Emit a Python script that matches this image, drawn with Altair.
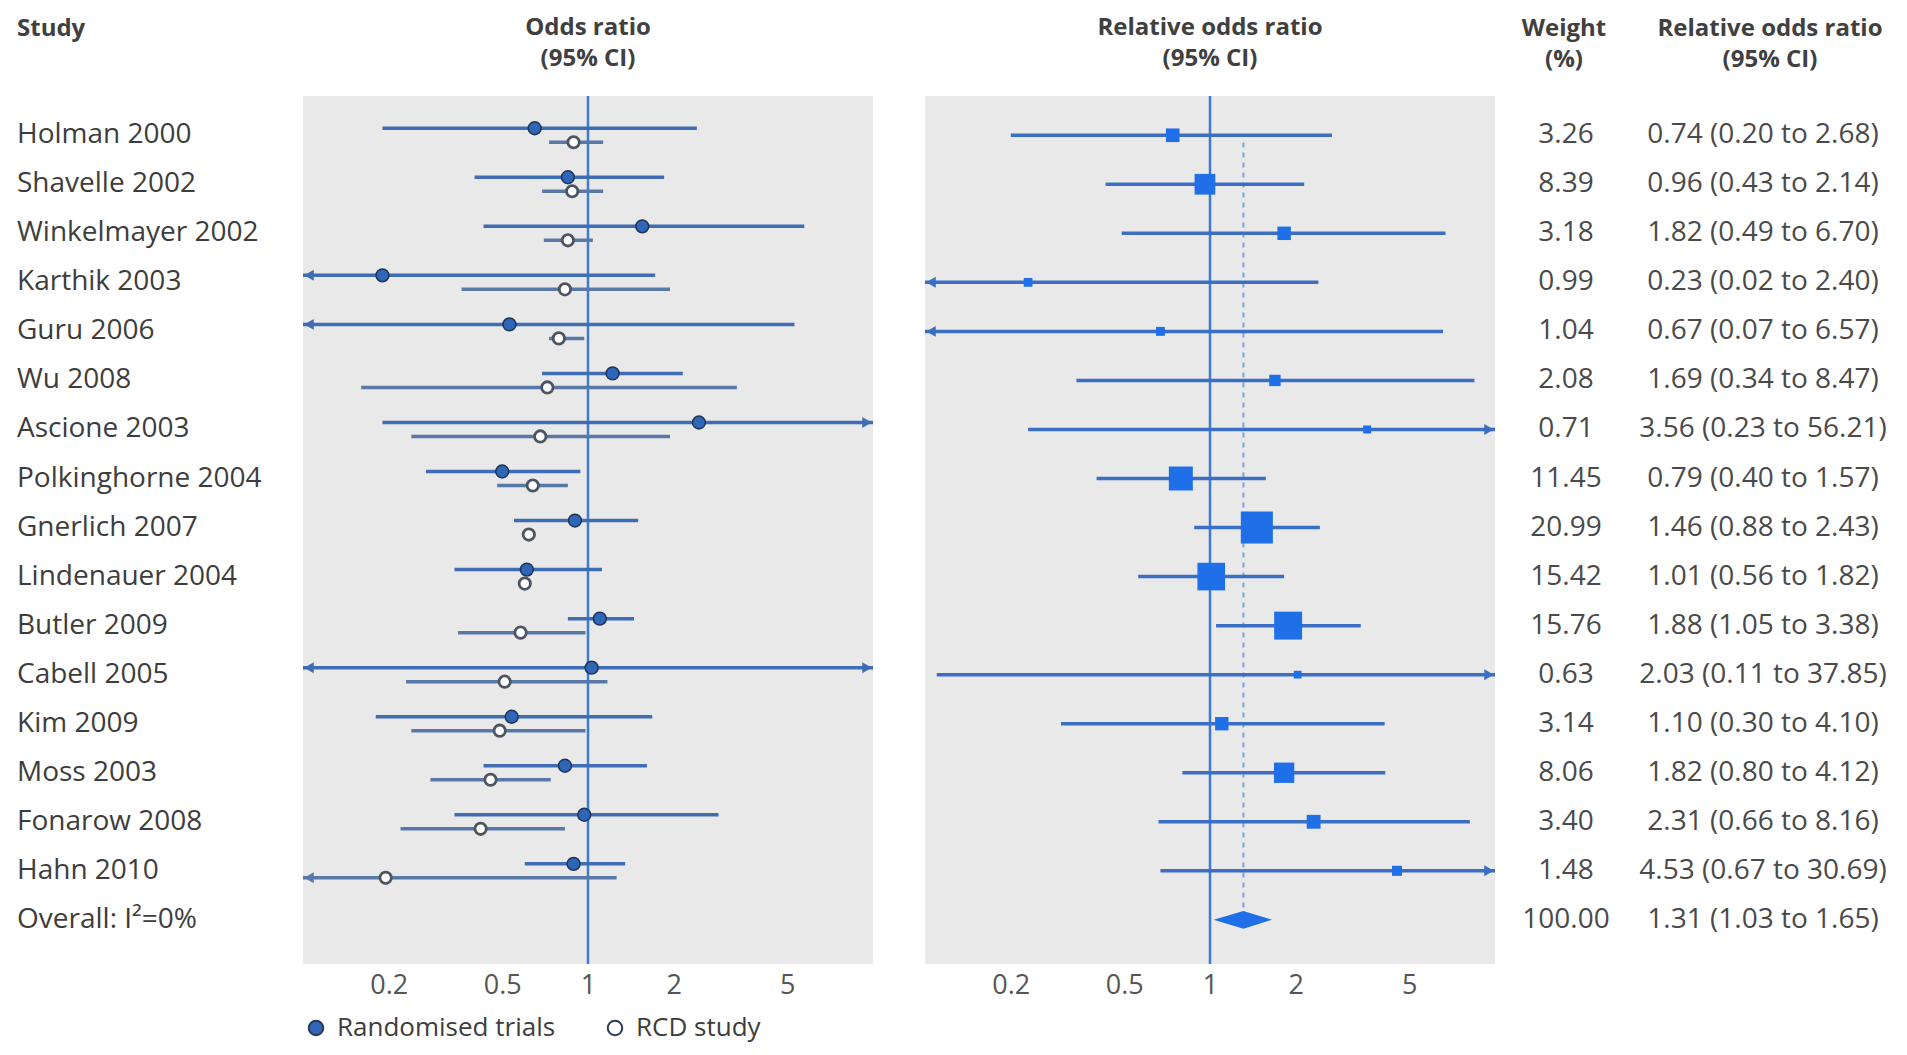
import altair as alt
import pandas as pd

# ---------------- data ----------------
studies = ["Holman 2000", "Shavelle 2002", "Winkelmayer 2002", "Karthik 2003", "Guru 2006",
           "Wu 2008", "Ascione 2003", "Polkinghorne 2004", "Gnerlich 2007", "Lindenauer 2004",
           "Butler 2009", "Cabell 2005", "Kim 2009", "Moss 2003", "Fonarow 2008", "Hahn 2010"]
overall_label = "Overall: I\u00b2=0%"

# odds ratios (randomised trials)
rt_or = [0.65, 0.85, 1.55, 0.19, 0.53, 1.22, 2.45, 0.50, 0.90, 0.61, 1.10, 1.03, 0.54, 0.83, 0.97, 0.89]
rt_lo = [0.19, 0.40, 0.43, 0.03, 0.05, 0.69, 0.19, 0.27, 0.55, 0.34, 0.85, 0.05, 0.18, 0.43, 0.34, 0.60]
rt_hi = [2.41, 1.85, 5.74, 1.72, 5.30, 2.15, 30.0, 0.94, 1.50, 1.12, 1.45, 20.0, 1.68, 1.61, 2.87, 1.35]
# odds ratios (RCD studies)
rcd_or = [0.89, 0.88, 0.85, 0.83, 0.79, 0.72, 0.68, 0.64, 0.62, 0.60, 0.58, 0.51, 0.49, 0.455, 0.42, 0.195]
rcd_lo = [0.73, 0.69, 0.70, 0.36, 0.73, 0.16, 0.24, 0.48, 0.60, 0.58, 0.35, 0.23, 0.24, 0.28, 0.22, 0.04]
rcd_hi = [1.13, 1.13, 1.04, 1.94, 0.97, 3.33, 1.94, 0.85, 0.645, 0.625, 0.98, 1.17, 0.98, 0.74, 0.83, 1.26]

# relative odds ratios (table)
rel_or = [0.74, 0.96, 1.82, 0.23, 0.67, 1.69, 3.56, 0.79, 1.46, 1.01, 1.88, 2.03, 1.10, 1.82, 2.31, 4.53]
rel_lo = [0.20, 0.43, 0.49, 0.02, 0.07, 0.34, 0.23, 0.40, 0.88, 0.56, 1.05, 0.11, 0.30, 0.80, 0.66, 0.67]
rel_hi = [2.68, 2.14, 6.70, 2.40, 6.57, 8.47, 56.21, 1.57, 2.43, 1.82, 3.38, 37.85, 4.10, 4.12, 8.16, 30.69]
weights = [3.26, 8.39, 3.18, 0.99, 1.04, 2.08, 0.71, 11.45, 20.99, 15.42, 15.76, 0.63, 3.14, 8.06, 3.40, 1.48]
overall_or, overall_lo, overall_hi, overall_w = 1.31, 1.03, 1.65, 100.00

series = ["Randomised trials", "RCD study"]
x_ticks = [0.2, 0.5, 1, 2, 5]
x_domain = [0.1, 10]

# ---------------- tables ----------------
n = len(studies)
rows = list(range(n))
overall_row = n

rt_df = pd.DataFrame({"row": rows, "type": series[0], "or": rt_or, "lo": rt_lo, "hi": rt_hi})
rcd_df = pd.DataFrame({"row": rows, "type": series[1], "or": rcd_or, "lo": rcd_lo, "hi": rcd_hi})
rel_df = pd.DataFrame({"row": rows, "or": rel_or, "lo": rel_lo, "hi": rel_hi, "w": weights})

label_df = pd.DataFrame({"row": rows + [overall_row], "label": studies + [overall_label]})
weight_df = pd.DataFrame({"row": rows + [overall_row],
                          "txt": [f"{w:.2f}" for w in weights + [overall_w]]})
ci_df = pd.DataFrame({"row": rows + [overall_row],
                      "txt": [f"{o:.2f} ({l:.2f} to {h:.2f})" for o, l, h in
                              zip(rel_or + [overall_or], rel_lo + [overall_lo], rel_hi + [overall_hi])]})

ref_df = pd.DataFrame({"x": [1.0]})
dash_df = pd.DataFrame({"x": [overall_or], "y": [0.15], "y2": [overall_row]})
dh = 0.18
diamond_df = pd.DataFrame({"x": [overall_lo, overall_or, overall_hi],
                           "y": [overall_row, overall_row - dh, overall_row],
                           "y2": [overall_row, overall_row + dh, overall_row]})

# ---------------- style ----------------
FONT = "Open Sans"
H = 868
PW = 570
TXT = "#3d3d3d"
PANEL_BG = "#e9e9e9"
REF_BLUE = "#3b7bd4"
LINE_BLUE = "#3f6db3"
LINE_RCD = "#5878a8"
SQ_BLUE = "#1f6fe8"

yscale = alt.Scale(domain=[-0.8, 16.9], reverse=True, nice=False, zero=False)
xscale = alt.Scale(type="log", domain=x_domain, clamp=True, nice=False)
xaxis = alt.Axis(values=x_ticks, format="~g", labelFontSize=27, labelColor="#555555",
                 labelFont=FONT, domain=False, ticks=False, grid=False, labelPadding=8)


def Y(field="row"):
    return alt.Y(f"{field}:Q", scale=yscale, axis=None)


def X(field):
    return alt.X(f"{field}:Q", scale=xscale, axis=xaxis, title=None)


def arrows(df, color, yoff):
    left = alt.Chart(df).transform_filter(f"datum.lo < {x_domain[0]}").mark_point(
        shape="triangle-left", filled=True, size=120, color=color, opacity=1,
        xOffset=6, yOffset=yoff).encode(x=X("lo"), y=Y())
    right = alt.Chart(df).transform_filter(f"datum.hi > {x_domain[1]}").mark_point(
        shape="triangle-right", filled=True, size=120, color=color, opacity=1,
        xOffset=-6, yOffset=yoff).encode(x=X("hi"), y=Y())
    return [left, right]


fill_scale = alt.Scale(domain=series, range=["#2f66b8", "#ffffff"])
legend = alt.Legend(title=None, orient="none", legendX=0, legendY=919, direction="horizontal",
                    labelFont=FONT, labelFontSize=26, labelColor=TXT, symbolType="circle",
                    symbolSize=210, symbolStrokeColor="#2a3a55", symbolStrokeWidth=2,
                    columnPadding=46, labelOffset=8, labelLimit=500)

# ---------------- left panel ----------------
ref_left = alt.Chart(ref_df).mark_rule(color=REF_BLUE, strokeWidth=2.5).encode(x=X("x"))
rt_ci = alt.Chart(rt_df).mark_rule(color=LINE_BLUE, strokeWidth=3.5, yOffset=-7).encode(
    x=X("lo"), x2="hi:Q", y=Y())
rcd_ci = alt.Chart(rcd_df).mark_rule(color=LINE_RCD, strokeWidth=3.5, yOffset=7).encode(
    x=X("lo"), x2="hi:Q", y=Y())
rt_pts = alt.Chart(rt_df).mark_point(filled=True, size=165, stroke="#1e3558", strokeWidth=1.5,
                                     opacity=1, yOffset=-7).encode(
    x=X("or"), y=Y(), fill=alt.Fill("type:N", scale=fill_scale, legend=legend))
rcd_pts = alt.Chart(rcd_df).mark_point(filled=True, size=130, stroke="#4d5560", strokeWidth=2.8,
                                       opacity=1, yOffset=7).encode(
    x=X("or"), y=Y(), fill=alt.Fill("type:N", scale=fill_scale, legend=legend))

left_panel = alt.layer(
    ref_left, rt_ci, rcd_ci, *arrows(rt_df, LINE_BLUE, -7), *arrows(rcd_df, LINE_RCD, 7),
    rt_pts, rcd_pts
).properties(width=PW, height=H, view=alt.ViewBackground(fill=PANEL_BG),
             title=alt.TitleParams(["Odds ratio", "(95% CI)"], anchor="middle", frame="group"))

# ---------------- right panel ----------------
ref_right = alt.Chart(ref_df).mark_rule(color=REF_BLUE, strokeWidth=2.5).encode(x=X("x"))
dash = alt.Chart(dash_df).mark_rule(color="#7aa2dc", strokeWidth=2, strokeDash=[5, 5]).encode(
    x=X("x"), y=Y("y"), y2="y2:Q")
rel_ci = alt.Chart(rel_df).mark_rule(color="#3a6fc4", strokeWidth=3.5).encode(
    x=X("lo"), x2="hi:Q", y=Y())
squares = alt.Chart(rel_df).mark_square(color=SQ_BLUE, opacity=1).encode(
    x=X("or"), y=Y(),
    size=alt.Size("w:Q", scale=alt.Scale(domain=[0, 21], range=[30, 1029]), legend=None))
diamond = alt.Chart(diamond_df).mark_area(color=SQ_BLUE, orient="vertical", opacity=1).encode(
    x=X("x"), y=Y("y"), y2="y2:Q")

right_panel = alt.layer(
    ref_right, dash, rel_ci, *arrows(rel_df, "#3a6fc4", 0), squares, diamond
).properties(width=PW, height=H, view=alt.ViewBackground(fill=PANEL_BG),
             title=alt.TitleParams(["Relative odds ratio", "(95% CI)"], anchor="middle", frame="group"))

# ---------------- text columns ----------------
labels_col = alt.Chart(label_df).mark_text(align="left", baseline="middle", font=FONT,
                                           fontSize=28, color=TXT).encode(
    x=alt.value(9), y=Y(), text="label:N"
).properties(width=243, height=H,
             title=alt.TitleParams(["Study", " "], anchor="start", frame="group", dx=9))

weight_col = alt.Chart(weight_df).mark_text(align="center", baseline="middle", font=FONT,
                                            fontSize=28, color="#4a4a4a").encode(
    x=alt.value(19), y=Y(), text="txt:N"
).properties(width=34, height=H,
             title=alt.TitleParams(["Weight", "(%)"], anchor="middle", frame="group"))

ci_col = alt.Chart(ci_df).mark_text(align="center", baseline="middle", font=FONT,
                                    fontSize=28, color="#4a4a4a").encode(
    x=alt.value(130), y=Y(), text="txt:N"
).properties(width=260, height=H,
             title=alt.TitleParams(["Relative odds ratio", "(95% CI)"], anchor="middle",
                                   frame="group", dx=7))

chart = alt.hconcat(
    labels_col, left_panel, right_panel, weight_col, ci_col, spacing=52, bounds="flush"
).resolve_scale(fill="independent", size="independent").resolve_legend(
    fill="independent", size="independent"
).properties(
    padding={"left": 0, "top": 7, "right": 0, "bottom": 42}
).configure_view(strokeWidth=0).configure_title(
    font=FONT, fontSize=24, fontWeight="bold", color="#404040", lineHeight=31, offset=24
)

chart.save("out.html", embed_options={"renderer": "svg", "actions": False})
